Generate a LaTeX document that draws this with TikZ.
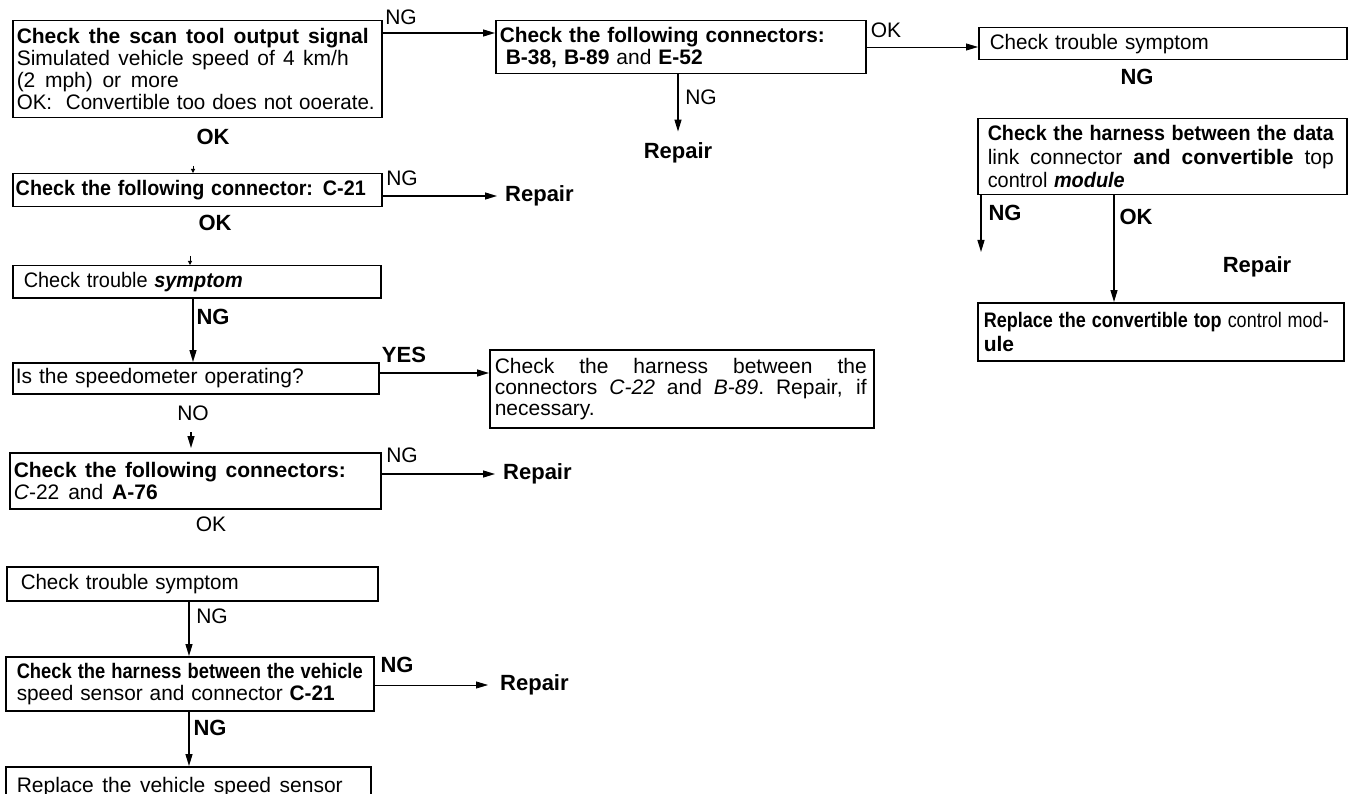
\documentclass[tikz,border=0pt]{standalone}
\usepackage{fontspec}
\setmainfont{Liberation Sans}
\usetikzlibrary{arrows.meta}
\newsavebox\jlbox
\newcommand\jl[2]{\leavevmode\sbox\jlbox{#2}\ifdim\wd\jlbox>#1\relax\resizebox{#1}{\height}{\usebox\jlbox}\else\hbox to #1{\spaceskip=0.25em plus 1fil\relax\xspaceskip=\spaceskip #2}\fi}
\newcommand\fs{\fontsize{21}{22}\selectfont}
\begin{document}
\begin{tikzpicture}[x=1pt,y=-1pt,
  bx/.style={draw, line width=1.5pt, anchor=north west, inner ysep=0pt, align=left, font=\fs},
  lr/.style={inner sep=0pt, font=\fontsize{21}{21}\selectfont},
  lb/.style={inner sep=0pt, font=\fontsize{22}{22}\selectfont\bfseries},
  arr/.style={line width=1.3pt, -{Triangle[length=12pt,width=7pt]}},
  thinl/.style={line width=0.8pt},
  tick/.style={line width=1pt, -{Triangle[length=4pt,width=4pt]}}]
\useasboundingbox (0,0) rectangle (1354,794);

% boxes
\node[bx, inner xsep=4pt, minimum width=369pt, minimum height=97pt, text width=361pt] (b1) at (12,20)
 {\jl{352pt}{\bfseries Check the scan tool output signal}\\
  \jl{332pt}{Simulated vehicle speed of 4 km/h}\\
  \jl{162pt}{(2 mph) or more}\\
  \jl{358pt}{OK:\hspace{14pt}Convertible too does not ooerate.}};
\node[bx, inner xsep=4pt, minimum width=370pt, minimum height=53pt, text width=362pt] (b2) at (495,20)
 {\jl{325pt}{\bfseries Check the following connectors:}\\
  \hspace*{6pt}\jl{197pt}{\textbf{B-38, B-89} and \textbf{E-52}}};
\node[bx, inner xsep=11pt, minimum width=368pt, minimum height=32pt, text width=346pt] (b3) at (978,27)
 {\jl{219pt}{Check trouble symptom}};
\node[bx, inner xsep=10pt, minimum width=369pt, minimum height=76pt, text width=349pt, font=\fontsize{21}{23.5}\selectfont] (b4) at (977,118)
 {\jl{346pt}{\bfseries Check the harness between the data}\\
  \jl{346pt}{link connector \textbf{and convertible} top}\\
  \jl{137pt}{control \textbf{\itshape module}}};
\node[bx, inner xsep=6pt, minimum width=366pt, minimum height=58pt, text width=354pt, font=\fontsize{21}{24}\selectfont] (b5) at (977,302)
 {\jl{345pt}{\textbf{Replace the convertible top} control mod-}\\
  \textbf{ule}};
\node[bx, inner xsep=3pt, minimum width=369pt, minimum height=33pt, text width=363pt] (b6) at (12,173)
 {\jl{350pt}{\bfseries Check the following connector: C-21}};
\node[bx, inner xsep=11pt, minimum width=368pt, minimum height=32pt, text width=346pt] (b7) at (12,265)
 {\jl{219pt}{Check trouble \textbf{\itshape symptom}}};
\node[bx, inner xsep=3pt, minimum width=366pt, minimum height=31pt, text width=360pt] (b8) at (12,362)
 {\jl{288pt}{Is the speedometer operating?}};
\node[bx, inner xsep=5pt, minimum width=384pt, minimum height=78pt, text width=374pt, font=\fontsize{21}{21}\selectfont] (b9) at (489,349)
 {\jl{372pt}{Check the harness between the}\\
  \jl{372pt}{connectors \textit{C-22} and \textit{B-89}. Repair, if}\\
  necessary.};
\node[bx, inner xsep=4pt, minimum width=371pt, minimum height=56pt, text width=363pt] (b10) at (9,452)
 {\jl{332pt}{\bfseries Check the following connectors:}\\
  \jl{144pt}{\textit{C}-22 and \textbf{A-76}}};
\node[bx, inner xsep=14pt, minimum width=371pt, minimum height=34pt, text width=343pt] (b11) at (6,566)
 {\jl{218pt}{Check trouble symptom}};
\node[bx, inner xsep=11pt, minimum width=368pt, minimum height=54pt, text width=346pt] (b12) at (5,656)
 {\jl{346pt}{\bfseries Check the harness between the vehicle}\\
  \jl{318pt}{speed sensor and connector \textbf{C-21}}};
\node[bx, inner xsep=11pt, minimum width=365pt, minimum height=40pt, text width=343pt] (b13) at (5,766)
 {\jl{326pt}{Replace the vehicle speed sensor}};

% labels and end texts
\node[lr] (l1) at (401,17) {NG};
\node[lr] (l2) at (701,97) {NG};
\node[lb] (r1) at (678,153) {Repair};
\node[lr] (l3) at (886,30) {OK};
\node[lb] (l4) at (1137,77) {NG};
\node[lb] (l5) at (1005,213) {NG};
\node[lb] (l6) at (1136,217) {OK};
\node[lb] (r5) at (1257,267) {Repair};
\node[lb] (l7) at (213,137) {OK};
\node[lr] (l8) at (402,178) {NG};
\node[lb, anchor=west] (r2) at (505,196) {Repair};
\node[lb] (l9) at (215,223) {OK};
\node[lb] (l10) at (213,317) {NG};
\node[lb] (l11) at (404,355) {YES};
\node[lr] (l12) at (193,413) {NO};
\node[lr] (l13) at (402,455) {NG};
\node[lb, anchor=west] (r3) at (503,474) {Repair};
\node[lr] (l14) at (211,524) {OK};
\node[lr] (l15) at (212,616) {NG};
\node[lb] (l16) at (397,665) {NG};
\node[lb, anchor=west] (r4) at (500,685) {Repair};
\node[lb] (l17) at (210,728) {NG};

% connectors
\draw[arr] ([yshift=-13pt]b1.north east) -- ([yshift=-13pt]b2.north west);
\draw[arr] (b2.south -| r1) -- ([yshift=11pt]r1.north);
\draw[arr, thinl] ([yshift=-27pt]b2.north east) -- ([yshift=-20pt]b3.north west);
\coordinate (c4) at (981,252);
\draw[arr] (c4 |- b4.south) -- (c4);
\coordinate (c5) at (1114,0);
\draw[arr] (c5 |- b4.south) -- (c5 |- b5.north);
\coordinate (t1) at (193,166);
\draw[tick] (t1) -- (t1 |- b6.north);
\coordinate (t2) at (190,256);
\draw[tick] (t2) -- (t2 |- b7.north);
\draw[arr] (b6.east |- r2.west) -- ([xshift=-8pt]r2.west);
\coordinate (c7) at (193,0);
\draw[arr] (c7 |- b7.south) -- (c7 |- b8.north);
\draw[arr] ([yshift=-11pt]b8.north east) -- ([yshift=-24pt]b9.north west);
\coordinate (c10) at (191,432);
\draw[arr, shorten >=4pt] (c10) -- (c10 |- b10.north);
\draw[arr] (b10.east |- r3.west) -- ([xshift=-8pt]r3.west);
\coordinate (c11) at (189,0);
\draw[arr] (c11 |- b11.south) -- (c11 |- b12.north);
\draw[arr] (c11 |- b12.south) -- (c11 |- b13.north);
\draw[arr, thinl] (b12.east |- r4.west) -- ([xshift=-12pt]r4.west);
\end{tikzpicture}
\end{document}
